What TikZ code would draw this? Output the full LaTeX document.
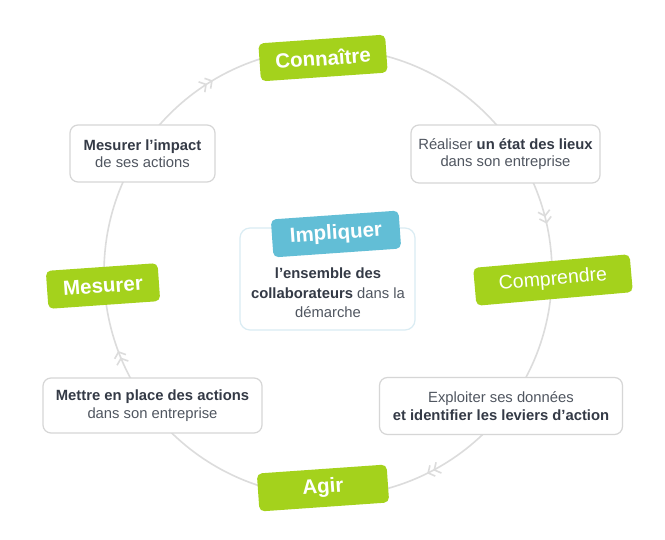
\documentclass[tikz,border=0pt]{standalone}
\usepackage{fontspec}
\setmainfont{Liberation Sans}
\usetikzlibrary{arrows.meta,decorations.markings}
\definecolor{lime}{RGB}{164,210,28}
\definecolor{skyb}{RGB}{98,190,214}
\definecolor{txtg}{RGB}{80,86,96}
\definecolor{txtb}{RGB}{52,58,70}
\definecolor{ringg}{RGB}{220,220,220}
\definecolor{boxg}{RGB}{214,214,214}
\definecolor{boxb}{RGB}{218,236,243}
\newcommand{\bb}[1]{{\bfseries\color{txtb}#1}}
\tikzset{
  ring/.style={draw=ringg, line width=1.6pt},
  chev/.style={ringg, line width=1.6pt},
  lab/.style={rounded corners=5pt, text=white, minimum height=38pt, inner sep=0pt,
     font=\fontsize{20.5}{24}\selectfont\bfseries, rotate=4},
  greenlab/.style={lab, fill=lime},
  wbox/.style={draw=boxg, line width=1.2pt, fill=white, rounded corners=8pt,
     align=center, inner sep=0pt, text=txtg, font=\fontsize{14.8}{17.5}\selectfont}
}
\begin{document}
\begin{tikzpicture}[x=1pt,y=1pt]
\useasboundingbox[fill=white] (0,0) rectangle (665,540);
\coordinate (c) at (328,267.5);
\draw[ring, postaction={decorate}, decoration={markings,
   mark=at position 0.177 with {\arrow[chev]{Straight Barb[length=5pt,width=12pt] Straight Barb[length=5pt,width=12pt]}},
   mark=at position 0.443 with {\arrow[chev]{Straight Barb[length=5pt,width=12pt] Straight Barb[length=5pt,width=12pt]}},
   mark=at position 0.664 with {\arrow[chev]{Straight Barb[length=5pt,width=12pt] Straight Barb[length=5pt,width=12pt]}},
   mark=at position 0.965 with {\arrow[chev]{Straight Barb[length=5pt,width=12pt] Straight Barb[length=5pt,width=12pt]}}}]
  (c) ++(0:224) arc[start angle=0, end angle=-360, radius=224];

% white boxes
\node[wbox, minimum width=189pt, minimum height=58pt] (real) at (505.5,386)
  {Réaliser \bb{un état des lieux}\\dans son entreprise};
\node[wbox, minimum width=243pt, minimum height=57pt] (expl) at (501,134)
  {Exploiter ses données\\\bb{et identifier les leviers d’action}};
\node[wbox, minimum width=219pt, minimum height=55pt] (mett) at (152.5,134.5)
  {\bb{Mettre en place des actions}\\dans son entreprise};
\node[wbox, minimum width=145pt, minimum height=57pt] (mesi) at (142.5,386.5)
  {\bb{Mesurer l’impact}\\de ses actions};

% centre
\node[draw=boxb, line width=1.2pt, fill=white, rounded corners=10pt,
  minimum width=175pt, minimum height=102pt] (cbox) at (327.5,261) {};
\node[align=center, text=txtg, font=\fontsize{14.8}{19.5}\selectfont] (ctext) at (328,247)
  {\bb{l’ensemble des}\\\bb{collaborateurs} dans la\\démarche};
\node[lab, fill=skyb, minimum width=128pt] (impl) at (336,306) {Impliquer};

% green labels
\node[greenlab, minimum width=127pt] (conn) at (323,482) {Connaître};
\node[greenlab, minimum width=157pt, rotate=1, font=\fontsize{19.5}{24}\selectfont] (comp) at (553,260) {Comprendre};
\node[greenlab, minimum width=130pt] (agir) at (323,52) {Agir};
\node[greenlab, minimum width=112pt] (mes) at (103,254) {Mesurer};
\end{tikzpicture}
\end{document}
